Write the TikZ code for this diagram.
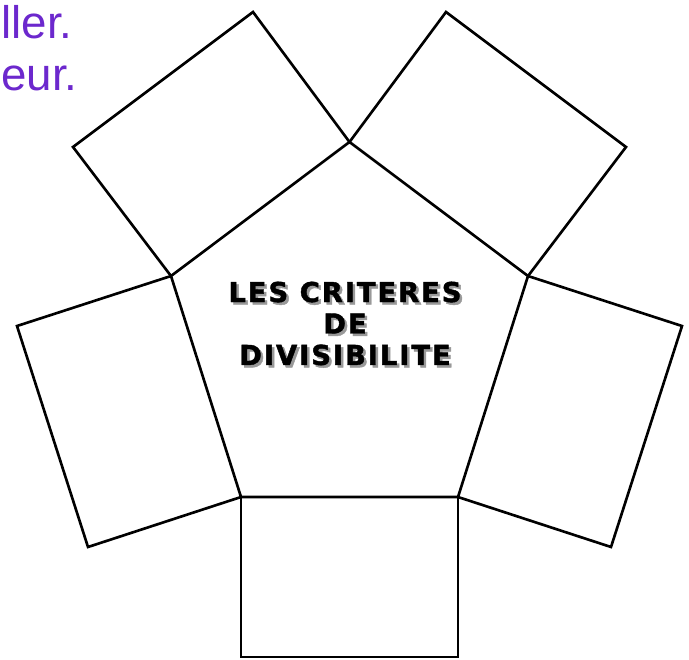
\documentclass[tikz,border=0pt]{standalone}
\usepackage{fontspec}
\setmainfont{Liberation Sans}
\newfontfamily\titlefont{DejaVu Sans}[LetterSpace=7, FakeBold=1.5]
\definecolor{textviolet}{RGB}{108,40,205}
\begin{document}
\begin{tikzpicture}[x=0.02cm, y=-0.02cm,
    panel/.style={line width=1.5pt, line join=miter},
    titletext/.style={align=center, font=\titlefont\bfseries\fontsize{15.6pt}{17.9pt}\selectfont}]
\useasboundingbox (0,0) rectangle (689,659);
% pentagon corners
\coordinate (top) at (349.5,142);
\coordinate (ul) at (171,276);
\coordinate (ur) at (528,276);
\coordinate (ll) at (241,497);
\coordinate (lr) at (458,497);
% leftover words of the lines above
\node[textviolet, anchor=base west, inner sep=0pt, font=\fontsize{26pt}{32pt}\selectfont] (line1) at (1,38) {ller.};
\node[textviolet, anchor=base west, inner sep=0pt, font=\fontsize{26pt}{32pt}\selectfont] (line2) at (1,90) {eur.};
% the five panels round the pentagon
\draw[panel] (ul) -- (73,147) -- (253,12) -- (top);
\draw[panel] (top) -- (446,12) -- (626,147) -- (ur);
\draw[panel] (ul) -- (17,326) -- (88,547) -- (ll);
\draw[panel] (ur) -- (682,326) -- (611,547) -- (lr);
\draw[panel] (ll) -- (241,657) -- (458,657) -- (lr);
\draw[panel] (top) -- (ur) -- (lr) -- (ll) -- (ul) -- cycle;
% title with its shadow
\node[titletext, black!40] (shadow) at (347.5,326) {LES CRITERES\\DE\\DIVISIBILITE};
\node[titletext] (title) at (345,323.5) {LES CRITERES\\DE\\DIVISIBILITE};
\end{tikzpicture}
\end{document}
